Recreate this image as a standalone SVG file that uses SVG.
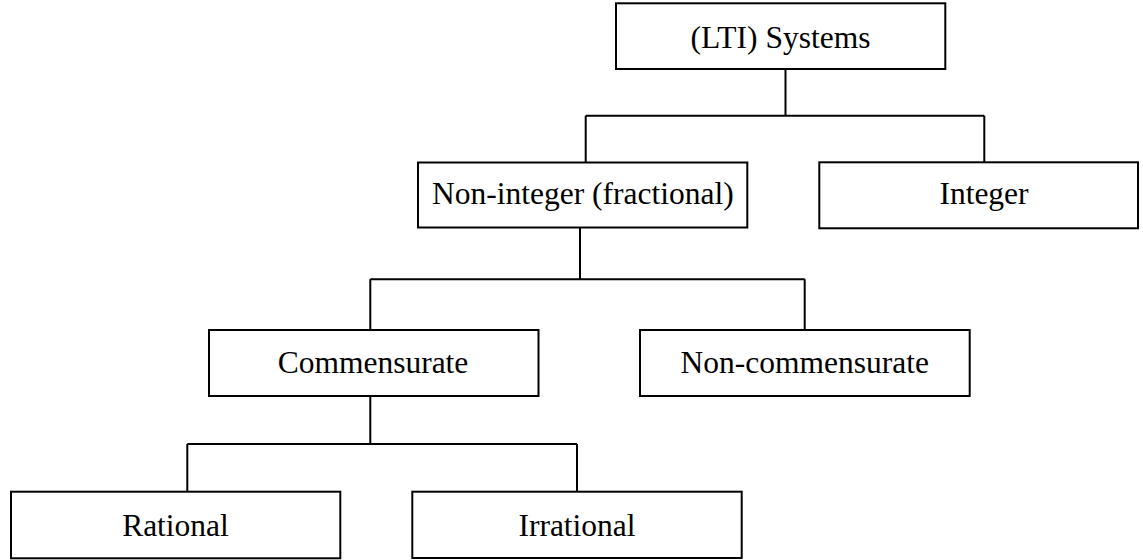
<svg xmlns="http://www.w3.org/2000/svg" width="1143" height="560" viewBox="0 0 1143 560">
<style>
rect.box{fill:#fff;stroke:#000;stroke-width:2}
text{font-family:"Liberation Serif","Times New Roman",serif;font-size:31.5px;fill:#000;text-anchor:middle}
.conn path{fill:none;stroke:#000;stroke-width:2}
</style>
<rect width="1143" height="560" fill="#fff"/>
<g class="conn" id="connectors">
<path d="M785.5 69V115.7M585.7 115.7H984.3M585.7 115.7V162.5M984.3 115.7V162.5"/>
<path d="M580 227.5V279.3M370.3 279.3H804.7M370.3 279.3V330M804.7 279.3V330"/>
<path d="M370.3 396V444M187.3 444H577M187.3 444V491.7M577 444V491.7"/>
</g>
<g id="n-lti"><rect class="box" x="616" y="3.3" width="329.3" height="65.7"/><text x="780.5" y="48.3">(LTI) Systems</text></g>
<g id="n-nonint"><rect class="box" x="418" y="162.5" width="329.3" height="65"/><text x="582.8" y="204">Non-integer (fractional)</text></g>
<g id="n-int"><rect class="box" x="819.3" y="162.3" width="318.7" height="66"/><text x="984" y="204">Integer</text></g>
<g id="n-comm"><rect class="box" x="209" y="330" width="329.5" height="66"/><text x="373" y="372.7">Commensurate</text></g>
<g id="n-noncomm"><rect class="box" x="640" y="330" width="329.7" height="66"/><text x="804.7" y="373">Non-commensurate</text></g>
<g id="n-rational"><rect class="box" x="11" y="491.7" width="329.3" height="66.6"/><text x="175.5" y="536">Rational</text></g>
<g id="n-irrational"><rect class="box" x="412.3" y="491.7" width="329.4" height="66.3"/><text x="577" y="536">Irrational</text></g>
</svg>
